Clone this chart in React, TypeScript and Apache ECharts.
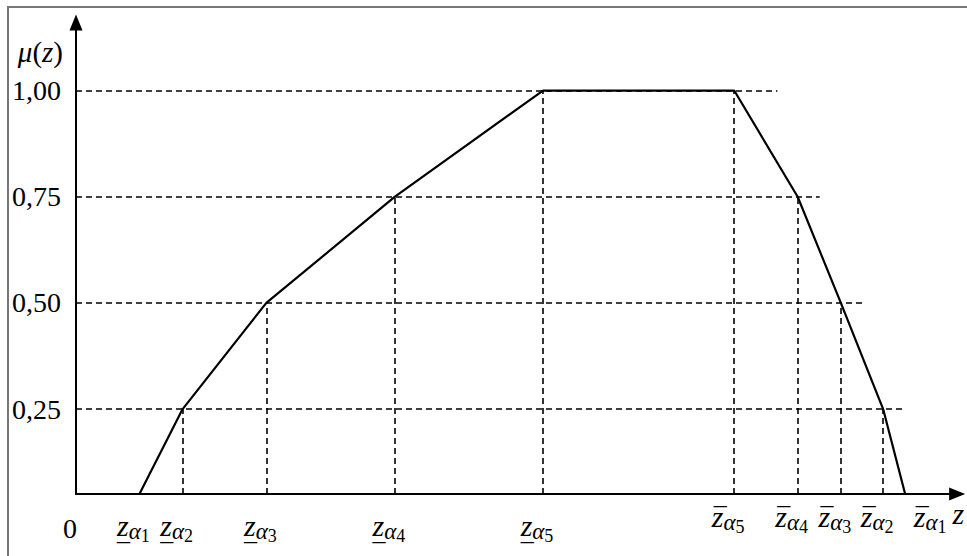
import React, { useEffect, useRef } from "react";
import * as echarts from "echarts";

// z positions (arbitrary units on the z axis), indexed by alpha level 1..5
const zLowerByAlpha = [7.2, 12.1, 21.6, 36.2, 53.0];
const zUpperByAlpha = [94.1, 91.6, 86.8, 81.9, 74.7];
// membership level of each alpha cut (alpha1 sits on the z axis)
const muLevels = [0.05, 0.25, 0.5, 0.75, 1.0];
// right end of the horizontal dashed guides for alpha2..alpha5
const guideEnds = [94.1, 89.3, 84.4, 79.6];
// y tick labels
const yTicks = [0.25, 0.5, 0.75, 1.0];
const alphaIndex = ["1", "2", "3", "4", "5"];

const Y_MIN = 0.05;
const Y_MAX = 1.16;
const X_MAX = 100;

const FONT = "Liberation Serif";

export default function App() {
  const ref = useRef<HTMLDivElement>(null);

  useEffect(() => {
    if (!ref.current) return;
    const chart = echarts.init(ref.current, null, { renderer: "svg" });

    const lineData: number[][] = [];
    for (let i = 0; i < 5; i++) lineData.push([zLowerByAlpha[i], muLevels[i]]);
    for (let i = 4; i >= 0; i--) lineData.push([zUpperByAlpha[i], muLevels[i]]);

    const guides: any[] = [];
    for (let i = 1; i < 5; i++) {
      guides.push([{ coord: [0, muLevels[i]] }, { coord: [guideEnds[i - 1], muLevels[i]] }]);
      guides.push([{ coord: [zLowerByAlpha[i], Y_MIN] }, { coord: [zLowerByAlpha[i], muLevels[i]] }]);
      guides.push([{ coord: [zUpperByAlpha[i], Y_MIN] }, { coord: [zUpperByAlpha[i], muLevels[i]] }]);
    }

    const labelValues = [0, ...zLowerByAlpha, ...zUpperByAlpha];
    const labelFor = (v: number): string => {
      if (v === 0) return "{zero|0}";
      const li = zLowerByAlpha.indexOf(v);
      if (li >= 0) return `{zl|z}{al|α}{nl|${alphaIndex[li]}}\n{bl|_}`;
      const ui = zUpperByAlpha.indexOf(v);
      if (ui === 0) return `{bu1|_}\n{zu1|z}{au|α}{nu0|${alphaIndex[ui]}}`;
      if (ui > 0) return `{bu|_}\n{zu|z}{au|α}{nu|${alphaIndex[ui]}}`;
      return "";
    };

    const base = { fontFamily: FONT, color: "#000", lineHeight: 30 };
    const bar = { fontFamily: FONT, color: "#000", fontSize: 26, lineHeight: 12, align: "left" };
    const axisLine = {
      show: true,
      symbol: ["none", "triangle"],
      symbolSize: [13, 16],
      lineStyle: { color: "#000", width: 2 },
    };

    chart.setOption({
      animation: false,
      backgroundColor: "#fff",
      grid: { left: 76, right: 8, top: 22.6, bottom: 62, containLabel: false },
      graphic: [
        {
          type: "rect",
          shape: { x: 8, y: 7, width: 2000, height: 2000 },
          style: { fill: "none", stroke: "#777", lineWidth: 2 },
          silent: true,
          z: 0,
        },
      ],
      xAxis: {
        type: "value",
        min: 0,
        max: X_MAX,
        name: "{z|z}",
        nameLocation: "end",
        nameGap: -3,
        nameTextStyle: {
          align: "center",
          verticalAlign: "middle",
          rich: {
            z: {
              fontFamily: FONT,
              fontStyle: "italic",
              fontSize: 30,
              color: "#000",
              padding: [38, 0, 0, 0],
            },
          },
        },
        axisLine,
        axisTick: { show: false },
        splitLine: { show: false },
        axisLabel: {
          customValues: labelValues,
          margin: -5,
          formatter: (v: number) => labelFor(v),
          rich: {
            zero: { ...base, fontSize: 28, padding: [48, 12, 0, 0] },
            zl: { ...base, fontSize: 30, fontStyle: "italic", padding: [42, 0, 0, 0] },
            al: { ...base, fontSize: 23, fontStyle: "italic", padding: [55, 0, 0, 0] },
            nl: { ...base, fontSize: 18, padding: [64, 12, 0, 0] },
            bl: { ...bar, padding: [12, 0, 0, 0] },
            bu: { ...bar, padding: [0, 0, 0, 2] },
            bu1: { ...bar, padding: [0, 0, 0, 52] },
            zu: { ...base, fontSize: 30, fontStyle: "italic" },
            zu1: { ...base, fontSize: 30, fontStyle: "italic", padding: [0, 0, 0, 50] },
            au: { ...base, fontSize: 23, fontStyle: "italic", padding: [12, 0, 0, 0] },
            nu: { ...base, fontSize: 18, padding: [21, 12, 0, 0] },
            nu0: { ...base, fontSize: 18, padding: [21, 0, 0, 0] },
          },
        },
      },
      yAxis: {
        type: "value",
        min: Y_MIN,
        max: Y_MAX,
        name: "{m|μ}{p|(}{m|z}{p|)}",
        nameLocation: "end",
        nameGap: -29.4,
        nameTextStyle: {
          align: "right",
          verticalAlign: "middle",
          padding: [0, 13, 0, 0],
          rich: {
            m: { fontFamily: FONT, fontStyle: "italic", fontSize: 29, color: "#000" },
            p: { fontFamily: FONT, fontSize: 29, color: "#000" },
          },
        },
        axisLine,
        axisTick: { show: false },
        splitLine: { show: false },
        axisLabel: {
          customValues: yTicks,
          margin: 15,
          fontFamily: FONT,
          fontSize: 28,
          color: "#000",
          formatter: (v: number) => v.toFixed(2).replace(".", ","),
        },
      },
      series: [
        {
          type: "line",
          data: [],
          z: 1,
          silent: true,
          markLine: {
            silent: true,
            symbol: ["none", "none"],
            label: { show: false },
            lineStyle: { color: "#000", type: [6, 4], width: 1.6 },
            emphasis: { disabled: true },
            data: guides,
          },
        },
        {
          type: "line",
          data: lineData,
          z: 3,
          showSymbol: false,
          silent: true,
          clip: false,
          lineStyle: { color: "#000", width: 2.2 },
        },
      ],
    });

    return () => chart.dispose();
  }, []);

  return (
    <div
      ref={ref}
      style={{ position: "fixed", left: 0, top: 0, width: 967, height: 556, background: "#fff" }}
    />
  );
}
